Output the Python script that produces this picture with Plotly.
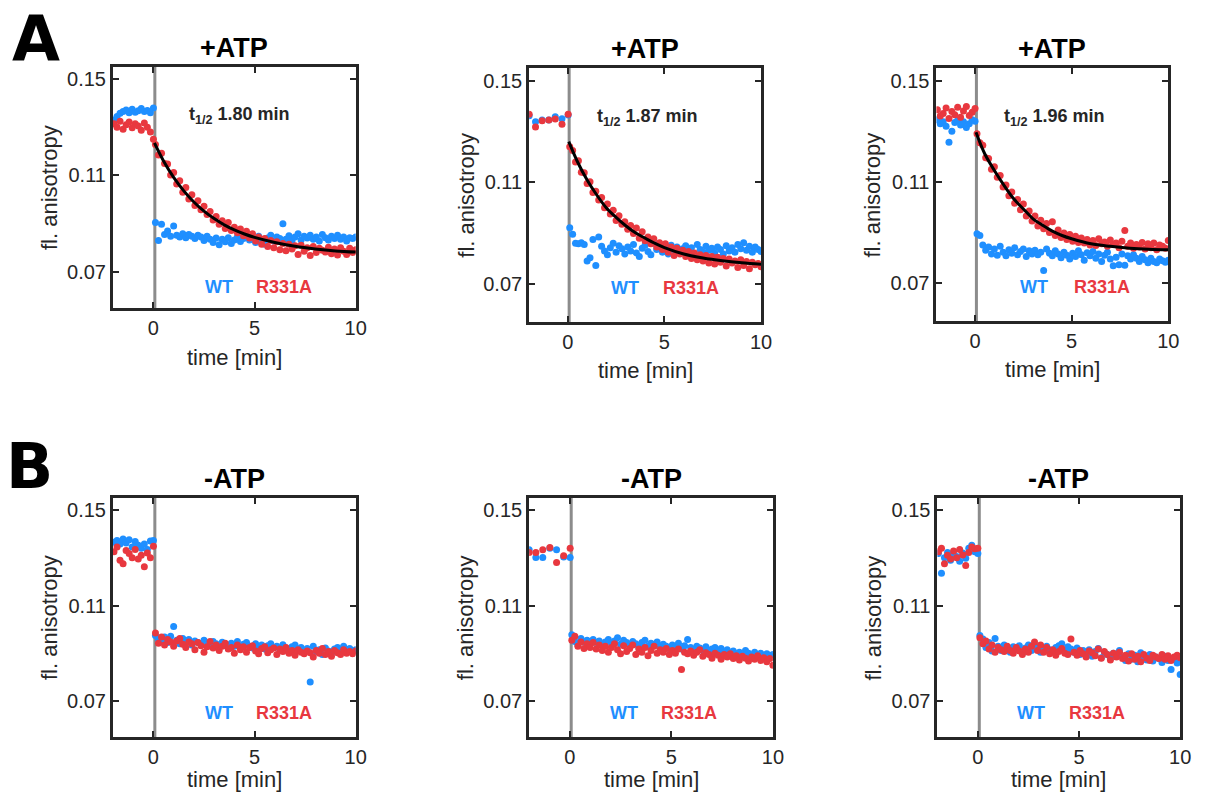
import plotly.graph_objects as go

# ---------------- data ----------------
T_PRE_DENSE = [-1.95, -1.8, -1.65, -1.5, -1.35, -1.2, -1.05, -0.9, -0.75, -0.6, -0.45, -0.3, -0.15, 0.0]
T_PRE_SPARSE = [-2.0, -1.67, -1.33, -0.98, -0.65, -0.3, 0.02]
T_POST = [0.1, 0.25, 0.4, 0.55, 0.7, 0.85, 1.0, 1.15, 1.3, 1.45,
          1.6, 1.75, 1.9, 2.05, 2.2, 2.35, 2.5, 2.65, 2.8, 2.95,
          3.1, 3.25, 3.4, 3.55, 3.7, 3.85, 4.0, 4.15, 4.3, 4.45,
          4.6, 4.75, 4.9, 5.05, 5.2, 5.35, 5.5, 5.65, 5.8, 5.95,
          6.1, 6.25, 6.4, 6.55, 6.7, 6.85, 7.0, 7.15, 7.3, 7.45,
          7.6, 7.75, 7.9, 8.05, 8.2, 8.35, 8.5, 8.65, 8.8, 8.95,
          9.1, 9.25, 9.4, 9.55, 9.7, 9.85, 10.0]
FIT_T = [0.05, 0.5, 1, 1.5, 2, 2.5, 3, 3.5, 4, 4.5, 5, 6, 7, 8, 9, 10]

# Panel A1 (+ATP, t1/2 1.80 min)
A1_WT_PRE = [0.1330, 0.1345, 0.1358, 0.1365, 0.1372, 0.1360, 0.1375, 0.1362, 0.1368, 0.1378, 0.1365, 0.1370, 0.1360, 0.1380]
A1_R_PRE = [0.1315, 0.1300, 0.1325, 0.1292, 0.1310, 0.1322, 0.1298, 0.1315, 0.1305, 0.1288, 0.1318, 0.1300, 0.1280, 0.1250]
A1_WT_POST = [0.0905, 0.0830, 0.0898, 0.0855, 0.0870, 0.0848, 0.0890, 0.0852, 0.0845, 0.0858,
              0.0842, 0.0855, 0.0848, 0.0838, 0.0852, 0.0845, 0.0830, 0.0848, 0.0835, 0.0822,
              0.0840, 0.0812, 0.0835, 0.0825, 0.0842, 0.0818, 0.0832, 0.0845, 0.0826, 0.0838,
              0.0850, 0.0832, 0.0845, 0.0822, 0.0848, 0.0835, 0.0815, 0.0840, 0.0852, 0.0828,
              0.0845, 0.0838, 0.0900, 0.0835, 0.0850, 0.0828, 0.0845, 0.0858, 0.0832, 0.0848,
              0.0840, 0.0852, 0.0835, 0.0845, 0.0828, 0.0855, 0.0842, 0.0832, 0.0848, 0.0838,
              0.0852, 0.0835, 0.0845, 0.0828, 0.0842, 0.0838, 0.0845]
A1_R_POST = [0.1228, 0.1185, 0.1192, 0.1150, 0.1148, 0.1102, 0.1112, 0.1065, 0.1078, 0.1030,
             0.1050, 0.1002, 0.1020, 0.0975, 0.0995, 0.0958, 0.0972, 0.0938, 0.0950, 0.0915,
             0.0930, 0.0898, 0.0912, 0.0880, 0.0905, 0.0872, 0.0885, 0.0862, 0.0878, 0.0850,
             0.0868, 0.0840, 0.0858, 0.0828, 0.0845, 0.0815, 0.0838, 0.0805, 0.0830, 0.0800,
             0.0825, 0.0792, 0.0818, 0.0788, 0.0815, 0.0795, 0.0808, 0.0772, 0.0810, 0.0785,
             0.0800, 0.0768, 0.0805, 0.0780, 0.0798, 0.0790, 0.0782, 0.0802, 0.0775, 0.0795,
             0.0770, 0.0800, 0.0785, 0.0772, 0.0798, 0.0780, 0.0792]
A1_FIT = [0.1235, 0.1160, 0.1092, 0.1036, 0.0990, 0.0952, 0.0921, 0.0895, 0.0874, 0.0857, 0.0843, 0.0822, 0.0806, 0.0795, 0.0787, 0.0782]

# Panel A2 (+ATP, t1/2 1.87 min)
A2_WT_PRE = [0.1362, 0.1338, 0.1345, 0.1345, 0.1358, 0.1350, 0.1365]
A2_R_PRE = [0.1368, 0.1318, 0.1342, 0.1345, 0.1349, 0.1329, 0.1368]
A2_WT_POST = [0.0921, 0.0895, 0.0860, 0.0858, 0.0862, 0.0855, 0.0790, 0.0803, 0.0875, 0.0772,
              0.0885, 0.0848, 0.0830, 0.0815, 0.0842, 0.0860, 0.0825, 0.0850, 0.0838, 0.0818,
              0.0845, 0.0830, 0.0855, 0.0822, 0.0808, 0.0840, 0.0852, 0.0828, 0.0815, 0.0860,
              0.0835, 0.0848, 0.0825, 0.0840, 0.0818, 0.0852, 0.0832, 0.0845, 0.0822, 0.0838,
              0.0850, 0.0828, 0.0842, 0.0815, 0.0855, 0.0835, 0.0825, 0.0848, 0.0832, 0.0840,
              0.0822, 0.0845, 0.0835, 0.0818, 0.0850, 0.0830, 0.0842, 0.0825, 0.0855, 0.0838,
              0.0862, 0.0832, 0.0848, 0.0825, 0.0845, 0.0835, 0.0828]
A2_R_POST = [0.1240, 0.1225, 0.1180, 0.1185, 0.1140, 0.1138, 0.1095, 0.1102, 0.1060, 0.1065,
             0.1030, 0.1040, 0.1000, 0.1015, 0.0975, 0.0990, 0.0950, 0.0968, 0.0935, 0.0945,
             0.0915, 0.0930, 0.0898, 0.0920, 0.0880, 0.0905, 0.0870, 0.0885, 0.0858, 0.0878,
             0.0845, 0.0862, 0.0835, 0.0858, 0.0825, 0.0845, 0.0812, 0.0840, 0.0818, 0.0832,
             0.0808, 0.0828, 0.0800, 0.0822, 0.0795, 0.0815, 0.0790, 0.0812, 0.0782, 0.0808,
             0.0778, 0.0805, 0.0785, 0.0800, 0.0770, 0.0798, 0.0782, 0.0790, 0.0765, 0.0795,
             0.0772, 0.0788, 0.0760, 0.0785, 0.0775, 0.0780, 0.0768]
A2_FIT = [0.1260, 0.1181, 0.1109, 0.1050, 0.0999, 0.0962, 0.0929, 0.0901, 0.0880, 0.0860, 0.0843, 0.0818, 0.0802, 0.0791, 0.0783, 0.0777]

# Panel A3 (+ATP, t1/2 1.96 min)
A3_WT_PRE = [0.1345, 0.1330, 0.1338, 0.1320, 0.1257, 0.1300, 0.1335, 0.1342, 0.1325, 0.1338, 0.1315, 0.1330, 0.1345, 0.1340]
A3_R_PRE = [0.1385, 0.1360, 0.1370, 0.1392, 0.1350, 0.1378, 0.1365, 0.1395, 0.1355, 0.1380, 0.1398, 0.1362, 0.1375, 0.1390]
A3_WT_POST = [0.0895, 0.0888, 0.0850, 0.0830, 0.0842, 0.0815, 0.0835, 0.0810, 0.0845, 0.0822,
              0.0808, 0.0832, 0.0818, 0.0840, 0.0812, 0.0825, 0.0835, 0.0805, 0.0828, 0.0815,
              0.0830, 0.0812, 0.0822, 0.0750, 0.0835, 0.0818, 0.0808, 0.0828, 0.0815, 0.0800,
              0.0822, 0.0810, 0.0795, 0.0818, 0.0805, 0.0828, 0.0812, 0.0790, 0.0820, 0.0808,
              0.0825, 0.0798, 0.0815, 0.0785, 0.0810, 0.0822, 0.0795, 0.0768, 0.0802, 0.0772,
              0.0815, 0.0770, 0.0808, 0.0795, 0.0812, 0.0798, 0.0785, 0.0805, 0.0792, 0.0780,
              0.0798, 0.0785, 0.0780, 0.0795, 0.0788, 0.0782, 0.0790]
A3_R_POST = [0.1290, 0.1255, 0.1245, 0.1195, 0.1192, 0.1150, 0.1160, 0.1118, 0.1125, 0.1080,
             0.1088, 0.1045, 0.1060, 0.1015, 0.1030, 0.0990, 0.1012, 0.0965, 0.0985, 0.0945,
             0.0965, 0.0925, 0.0948, 0.0915, 0.0935, 0.0900, 0.0942, 0.0888, 0.0910, 0.0880,
             0.0898, 0.0872, 0.0892, 0.0865, 0.0885, 0.0860, 0.0878, 0.0858, 0.0872, 0.0850,
             0.0868, 0.0848, 0.0875, 0.0855, 0.0862, 0.0845, 0.0870, 0.0852, 0.0858, 0.0840,
             0.0865, 0.0908, 0.0845, 0.0858, 0.0838, 0.0852, 0.0842, 0.0860, 0.0835, 0.0855,
             0.0840, 0.0858, 0.0832, 0.0850, 0.0845, 0.0838, 0.0868]
A3_FIT = [0.1296, 0.1211, 0.1145, 0.1086, 0.1033, 0.0993, 0.0954, 0.0928, 0.0905, 0.0888, 0.0875, 0.0855, 0.0845, 0.0838, 0.0834, 0.0832]

# Panel B1 (-ATP)
B1_WT_PRE = [0.1365, 0.1372, 0.1358, 0.1378, 0.1362, 0.1375, 0.1345, 0.1368, 0.1352, 0.1340, 0.1358, 0.1335, 0.1370, 0.1372]
B1_R_PRE = [0.1325, 0.1345, 0.1290, 0.1275, 0.1330, 0.1318, 0.1300, 0.1335, 0.1295, 0.1310, 0.1262, 0.1320, 0.1300, 0.1348]
B1_WT_POST = [0.0975, 0.0960, 0.0950, 0.0968, 0.0945, 0.0972, 0.1012, 0.0955, 0.0940, 0.0962,
              0.0948, 0.0958, 0.0935, 0.0952, 0.0945, 0.0938, 0.0955, 0.0942, 0.0932, 0.0950,
              0.0940, 0.0928, 0.0946, 0.0935, 0.0920, 0.0942, 0.0930, 0.0950, 0.0925, 0.0938,
              0.0945, 0.0930, 0.0922, 0.0940, 0.0928, 0.0935, 0.0918, 0.0932, 0.0940, 0.0925,
              0.0930, 0.0915, 0.0936, 0.0922, 0.0910, 0.0928, 0.0935, 0.0918, 0.0925, 0.0912,
              0.0920, 0.0780, 0.0930, 0.0908, 0.0915, 0.0895, 0.0922, 0.0910, 0.0900, 0.0918,
              0.0925, 0.0905, 0.0930, 0.0912, 0.0920, 0.0908, 0.0915]
B1_R_POST = [0.0985, 0.0942, 0.0968, 0.0935, 0.0958, 0.0948, 0.0930, 0.0952, 0.0962, 0.0938,
             0.0925, 0.0948, 0.0940, 0.0915, 0.0945, 0.0932, 0.0905, 0.0928, 0.0950, 0.0922,
             0.0935, 0.0912, 0.0930, 0.0942, 0.0918, 0.0925, 0.0900, 0.0935, 0.0915, 0.0928,
             0.0905, 0.0925, 0.0932, 0.0910, 0.0898, 0.0920, 0.0928, 0.0902, 0.0915, 0.0922,
             0.0895, 0.0918, 0.0908, 0.0925, 0.0900, 0.0912, 0.0892, 0.0915, 0.0905, 0.0898,
             0.0910, 0.0902, 0.0885, 0.0912, 0.0900, 0.0920, 0.0895, 0.0908, 0.0888, 0.0912,
             0.0902, 0.0895, 0.0915, 0.0900, 0.0908, 0.0898, 0.0910]

# Panel B2 (-ATP)
B2_WT_PRE = [0.1333, 0.1301, 0.1301, 0.1340, 0.1333, 0.1303, 0.1301]
B2_R_PRE = [0.1322, 0.1322, 0.1333, 0.1343, 0.1280, 0.1308, 0.1340]
B2_WT_POST = [0.0978, 0.0950, 0.0935, 0.0962, 0.0948, 0.0955, 0.0940, 0.0958, 0.0945, 0.0952,
              0.0935, 0.0948, 0.0958, 0.0942, 0.0952, 0.0965, 0.0938, 0.0955, 0.0945, 0.0932,
              0.0950, 0.0940, 0.0925, 0.0945, 0.0955, 0.0930, 0.0942, 0.0935, 0.0948, 0.0925,
              0.0938, 0.0930, 0.0920, 0.0935, 0.0928, 0.0942, 0.0918, 0.0932, 0.0958, 0.0925,
              0.0915, 0.0930, 0.0922, 0.0912, 0.0928, 0.0905, 0.0918, 0.0925, 0.0910, 0.0920,
              0.0902, 0.0915, 0.0895, 0.0910, 0.0898, 0.0905, 0.0888, 0.0912, 0.0900, 0.0892,
              0.0905, 0.0895, 0.0900, 0.0888, 0.0898, 0.0892, 0.0895]
B2_R_POST = [0.0955, 0.0972, 0.0930, 0.0948, 0.0920, 0.0940, 0.0925, 0.0945, 0.0918, 0.0935,
             0.0912, 0.0930, 0.0905, 0.0925, 0.0940, 0.0915, 0.0898, 0.0932, 0.0908, 0.0920,
             0.0935, 0.0895, 0.0918, 0.0905, 0.0925, 0.0890, 0.0912, 0.0930, 0.0900, 0.0915,
             0.0905, 0.0920, 0.0895, 0.0912, 0.0900, 0.0918, 0.0832, 0.0905, 0.0898, 0.0910,
             0.0892, 0.0905, 0.0915, 0.0888, 0.0902, 0.0895, 0.0880, 0.0900, 0.0892, 0.0875,
             0.0895, 0.0885, 0.0898, 0.0878, 0.0890, 0.0872, 0.0888, 0.0880, 0.0868, 0.0885,
             0.0875, 0.0890, 0.0870, 0.0882, 0.0865, 0.0878, 0.0850]

# Panel B3 (-ATP)
B3_WT_PRE = [0.1318, 0.1235, 0.1300, 0.1322, 0.1290, 0.1315, 0.1305, 0.1285, 0.1320, 0.1298, 0.1340, 0.1352, 0.1325, 0.1318]
B3_R_PRE = [0.1325, 0.1340, 0.1275, 0.1310, 0.1295, 0.1328, 0.1300, 0.1335, 0.1312, 0.1268, 0.1322, 0.1345, 0.1338, 0.1340]
B3_WT_POST = [0.0975, 0.0960, 0.0925, 0.0945, 0.0910, 0.0962, 0.0930, 0.0912, 0.0935, 0.0920,
              0.0905, 0.0928, 0.0915, 0.0932, 0.0900, 0.0922, 0.0935, 0.0912, 0.0918, 0.0928,
              0.0905, 0.0920, 0.0930, 0.0915, 0.0908, 0.0925, 0.0932, 0.0940, 0.0912, 0.0928,
              0.0918, 0.0905, 0.0922, 0.0895, 0.0912, 0.0900, 0.0915, 0.0888, 0.0908, 0.0920,
              0.0882, 0.0905, 0.0895, 0.0878, 0.0900, 0.0890, 0.0912, 0.0885, 0.0870, 0.0898,
              0.0875, 0.0892, 0.0865, 0.0902, 0.0880, 0.0872, 0.0895, 0.0868, 0.0885, 0.0878,
              0.0862, 0.0888, 0.0870, 0.0832, 0.0875, 0.0860, 0.0812]
B3_R_POST = [0.0965, 0.0940, 0.0952, 0.0918, 0.0935, 0.0905, 0.0925, 0.0915, 0.0908, 0.0930,
             0.0912, 0.0900, 0.0925, 0.0910, 0.0895, 0.0918, 0.0905, 0.0930, 0.0948, 0.0912,
             0.0935, 0.0905, 0.0925, 0.0898, 0.0915, 0.0892, 0.0908, 0.0920, 0.0900, 0.0895,
             0.0960, 0.0905, 0.0892, 0.0912, 0.0898, 0.0885, 0.0910, 0.0902, 0.0890, 0.0918,
             0.0880, 0.0908, 0.0895, 0.0872, 0.0900, 0.0885, 0.0905, 0.0878, 0.0892, 0.0868,
             0.0898, 0.0875, 0.0888, 0.0865, 0.0895, 0.0880, 0.0870, 0.0892, 0.0885, 0.0878,
             0.0895, 0.0875, 0.0890, 0.0870, 0.0885, 0.0892, 0.0882]

Y_TICKS = [0.07, 0.11, 0.15]
Y_TICK_TEXT = ["0.07", "0.11", "0.15"]
X_TICKS = [0, 5, 10]
T_HALF_TEXT = ["1.80", "1.87", "1.96"]

# ---------------- styling / layout ----------------
W, H = 1211, 802
BLUE = "#1f8fff"
RED = "#e8383f"
INK = "#262626"
FONT = "Liberation Sans"

panels = [
    dict(box=(114, 359, 67, 308), tpre=T_PRE_DENSE, wpre=A1_WT_PRE, rpre=A1_R_PRE, wpost=A1_WT_POST, rpost=A1_R_POST,
         fit=A1_FIT, title="+ATP", th=T_HALF_TEXT[0], thpos=(4.24, 0.1347), lab=(3.24, 6.47, 0.0638), xt=49),
    dict(box=(534, 768, 68, 322), tpre=T_PRE_SPARSE, wpre=A2_WT_PRE, rpre=A2_R_PRE, wpost=A2_WT_POST, rpost=A2_R_POST,
         fit=A2_FIT, title="+ATP", th=T_HALF_TEXT[1], thpos=(4.11, 0.1355), lab=(2.95, 6.36, 0.0684), xt=48),
    dict(box=(945, 1179, 68, 321), tpre=T_PRE_DENSE, wpre=A3_WT_PRE, rpre=A3_R_PRE, wpost=A3_WT_POST, rpost=A3_R_POST,
         fit=A3_FIT, title="+ATP", th=T_HALF_TEXT[2], thpos=(4.13, 0.1355), lab=(3.05, 6.58, 0.0685), xt=48),
    dict(box=(114, 359, 498, 737), tpre=T_PRE_DENSE, wpre=B1_WT_PRE, rpre=B1_R_PRE, wpost=B1_WT_POST, rpost=B1_R_POST,
         fit=None, title="-ATP", th=None, thpos=None, lab=(3.24, 6.47, 0.0652), xt=42),
    dict(box=(534, 780, 498, 737), tpre=T_PRE_SPARSE, wpre=B2_WT_PRE, rpre=B2_R_PRE, wpost=B2_WT_POST, rpost=B2_R_POST,
         fit=None, title="-ATP", th=None, thpos=None, lab=(2.65, 5.88, 0.0652), xt=42),
    dict(box=(946, 1191, 498, 737), tpre=T_PRE_DENSE, wpre=B3_WT_PRE, rpre=B3_R_PRE, wpost=B3_WT_POST, rpost=B3_R_POST,
         fit=None, title="-ATP", th=None, thpos=None, lab=(2.65, 5.9, 0.0652), xt=42),
]

fig = go.Figure()
layout = dict(width=W, height=H, margin=dict(l=0, r=0, t=0, b=0), showlegend=False,
              plot_bgcolor="white", paper_bgcolor="white")
shapes = []
annotations = []

for i, p in enumerate(panels, start=1):
    sx = "" if i == 1 else str(i)
    xr, yr = "x" + sx, "y" + sx
    x0, x1, y0, y1 = p["box"]
    axis_common = dict(showline=True, linecolor=INK, linewidth=3, mirror="allticks", ticks="inside",
                       ticklen=6, tickwidth=2, tickcolor=INK, showgrid=False, zeroline=False,
                       tickfont=dict(family=FONT, size=20, color=INK))
    layout["xaxis" + sx] = dict(axis_common, domain=[x0 / W, x1 / W], range=[-2, 10], tickvals=X_TICKS,
                                anchor=yr)
    layout["yaxis" + sx] = dict(axis_common, domain=[1 - y1 / H, 1 - y0 / H], range=[0.055, 0.155],
                                tickvals=Y_TICKS, ticktext=Y_TICK_TEXT, anchor=xr)

    shapes.append(dict(type="line", xref=xr, yref=yr + " domain", x0=0.07, x1=0.07, y0=0, y1=1,
                       line=dict(color="#8c8c8c", width=3), layer="below"))

    marker_kw = dict(size=7, line=dict(width=0))
    fig.add_trace(go.Scatter(x=p["tpre"] + T_POST, y=p["wpre"] + p["wpost"], mode="markers",
                             marker=dict(color=BLUE, **marker_kw), xaxis=xr, yaxis=yr, name="WT"))
    fig.add_trace(go.Scatter(x=p["tpre"] + T_POST, y=p["rpre"] + p["rpost"], mode="markers",
                             marker=dict(color=RED, **marker_kw), xaxis=xr, yaxis=yr, name="R331A"))
    if p["fit"] is not None:
        fig.add_trace(go.Scatter(x=FIT_T, y=p["fit"], mode="lines", line=dict(color="black", width=3, shape="spline"),
                                 xaxis=xr, yaxis=yr, name="fit"))
        annotations.append(dict(xref=xr, yref=yr, x=p["thpos"][0], y=p["thpos"][1], showarrow=False,
                                text="<b>t<sub>1/2</sub> " + p["th"] + " min</b>",
                                font=dict(family=FONT, size=18, color=INK)))

    lx_wt, lx_r, ly = p["lab"]
    annotations.append(dict(xref=xr, yref=yr, x=lx_wt, y=ly, showarrow=False, text="<b>WT</b>",
                            font=dict(family=FONT, size=18, color=BLUE)))
    annotations.append(dict(xref=xr, yref=yr, x=lx_r, y=ly, showarrow=False, text="<b>R331A</b>",
                            font=dict(family=FONT, size=18, color=RED)))

    cx = (x0 + x1) / 2
    cy = (y0 + y1) / 2
    # panel title
    annotations.append(dict(xref="paper", yref="paper", x=cx / W, y=1 - (y0 - 19) / H, showarrow=False,
                            text="<b>" + p["title"] + "</b>", font=dict(family=FONT, size=27, color="black"),
                            xanchor="center", yanchor="middle"))
    # axis titles
    annotations.append(dict(xref="paper", yref="paper", x=cx / W, y=1 - (y1 + p["xt"]) / H, showarrow=False,
                            text="time [min]", font=dict(family=FONT, size=22, color=INK),
                            xanchor="center", yanchor="middle"))
    annotations.append(dict(xref="paper", yref="paper", x=(x0 - 64) / W, y=1 - cy / H, showarrow=False,
                            text="fl. anisotropy", textangle=-90, font=dict(family=FONT, size=22, color=INK),
                            xanchor="center", yanchor="middle"))

# panel letters
annotations.append(dict(xref="paper", yref="paper", x=36 / W, y=1.0, showarrow=False, text="<b>A</b>",
                        font=dict(family="DejaVu Sans", size=62, color="black"), xanchor="center", yanchor="top"))
annotations.append(dict(xref="paper", yref="paper", x=30 / W, y=1 - 428 / H, showarrow=False, text="<b>B</b>",
                        font=dict(family="DejaVu Sans", size=62, color="black"), xanchor="center", yanchor="top"))

layout["shapes"] = shapes
layout["annotations"] = annotations
fig.update_layout(**layout)
fig.write_html("out.html", config={"displayModeBar": False},
               post_script="document.body.style.margin='0';document.body.style.overflow='hidden';")
